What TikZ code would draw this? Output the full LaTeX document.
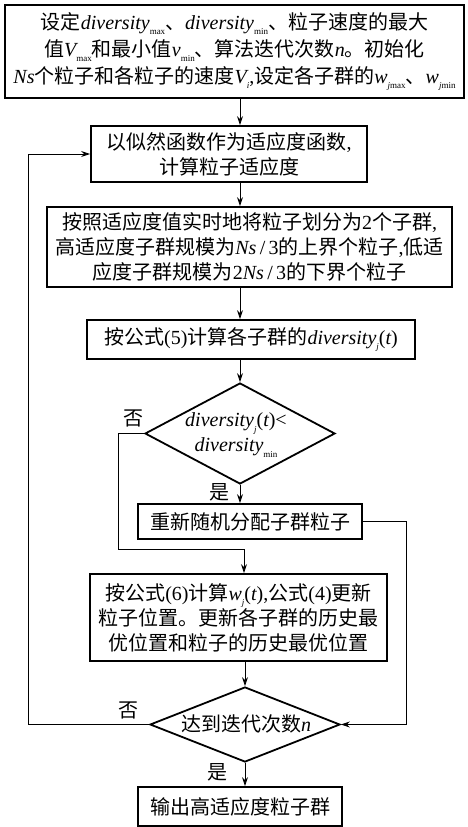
\documentclass[tikz,border=0pt]{standalone}
\usepackage{fontspec}
\usetikzlibrary{shapes.geometric,arrows.meta}
\newfontfamily\cjk{Noto Sans CJK SC}
\newfontfamily\tnr{Liberation Serif}
\newcommand\tm[1]{{\tnr #1}}
\newcommand\ti[1]{{\tnr\itshape #1}}
\newcommand\sbs[1]{\raisebox{-0.28em}{\fontsize{9pt}{9pt}\selectfont\tnr #1}}
\tikzset{
  box/.style={draw, line width=1.8pt, inner sep=0pt, align=center,
    font=\cjk\fontsize{20pt}{25pt}\selectfont},
  dia/.style={draw, diamond, line width=1.8pt, inner sep=0pt},
  dtext/.style={inner sep=0pt, align=center, font=\cjk\fontsize{20pt}{25pt}\selectfont},
  conn/.style={line width=0.9pt, -{Stealth[length=9pt,width=6pt]}},
  lbl/.style={inner sep=0pt, font=\cjk\fontsize{20pt}{20pt}\selectfont}
}
\begin{document}
\begin{tikzpicture}[x=1pt,y=-1pt]
\useasboundingbox[fill=white] (0,0) rectangle (467,827);
% boxes
\node[box, minimum width=459pt, minimum height=93pt, font=\cjk\fontsize{20pt}{27pt}\selectfont] (b1) at (234.5,51.5)
 {设定\ti{diversity}\sbs{max}、\ti{diversity}\sbs{min}、粒子速度的最大\\
  值\ti{V}\sbs{max}和最小值\ti{v}\sbs{min}、算法迭代次数\ti{n}。初始化\\
  \ti{Ns}个粒子和各粒子的速度\ti{V}\sbs{\itshape i}\tm{,}设定各子群的\ti{w}\sbs{{\itshape j}max}、\ti{w}\sbs{{\itshape j}min}};
\node[box, minimum width=276pt, minimum height=56pt] (b2) at (229,154)
 {以似然函数作为适应度函数\tm{,}\\ 计算粒子适应度};
\node[box, minimum width=405pt, minimum height=80pt] (b3) at (249.5,247)
 {按照适应度值实时地将粒子划分为\tm{2}个子群\tm{,}\\
  高适应度子群规模为\ti{Ns}\tm{\,/\,3}的上界个粒子\tm{,}低适\\
  应度子群规模为\tm{2}\ti{Ns}\tm{\,/\,3}的下界个粒子};
\node[box, minimum width=328pt, minimum height=39pt] (b4) at (251,339.5)
 {按公式\tm{(5)}计算各子群的\ti{diversity}\sbs{\itshape j}\tm{(}\ti{t}\tm{)}};
\node[dia, minimum width=190pt, minimum height=101pt] (d1) at (240,433.5) {};
\node[dtext] (d1t) at (236,435)
 {\ti{diversity}\sbs{\itshape j}\tm{(}\ti{t}\tm{)<}\\ \ti{diversity}\sbs{min}};
\node[box, minimum width=224pt, minimum height=35pt] (b5) at (250,521.5)
 {重新随机分配子群粒子};
\node[box, minimum width=297pt, minimum height=87pt] (b6) at (238.5,617.5)
 {按公式\tm{(6)}计算\ti{w}\sbs{\itshape j}\tm{(}\ti{t}\tm{),}公式\tm{(4)}更新\\
  粒子位置。更新各子群的历史最\\
  优位置和粒子的历史最优位置};
\node[dia, minimum width=190pt, minimum height=75pt] (d2) at (245,724.5) {};
\node[dtext] (d2t) at (246,724) {达到迭代次数\ti{n}};
\node[box, minimum width=204pt, minimum height=39pt] (b7) at (240,806.5)
 {输出高适应度粒子群};
% labels
\node[lbl] (no1) at (133,418) {否};
\node[lbl] (yes1) at (219,492) {是};
\node[lbl] (no2) at (128,710) {否};
\node[lbl] (yes2) at (217,772) {是};
% helper coordinates
\coordinate (n1) at (118,549);
\coordinate (n2) at (244,549);
\coordinate (r1) at (406,521.5);
\coordinate (l1) at (28,724.5);
% connectors
\draw[conn] (b1.south -| d1) -- (b2.north -| d1);
\draw[conn] (b2.south -| d1) -- (b3.north -| d1);
\draw[conn] (b3.south -| d1) -- (b4.north -| d1);
\draw[conn] (b4.south -| d1) -- (d1.north);
\draw[conn] (d1.south) -- (b5.north -| d1);
\draw[conn] (d1.west) -| (n1) -- (n2) -- (n2 |- b6.north);
\draw[conn] (b5.east) -- (r1) |- (d2.east);
\draw[conn] (b6.south -| d2) -- (d2.north);
\draw[conn] (d2.south) -- (b7.north -| d2);
\draw[conn] (d2.west) -- (l1) |- (b2.west);
\end{tikzpicture}
\end{document}
